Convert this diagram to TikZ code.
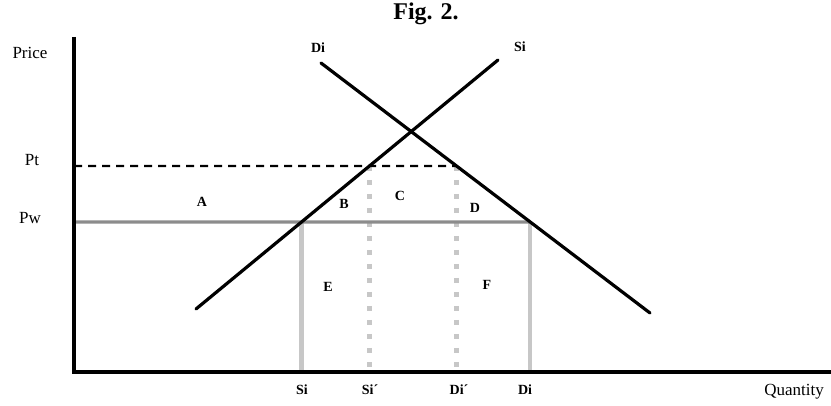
\documentclass[tikz,border=0pt]{standalone}
\usepackage{fontspec}
\setmainfont{Liberation Serif}
\usetikzlibrary{intersections,positioning}

\tikzset{
  axis/.style={line width=3.2pt, black},
  curve/.style={line width=3.2pt, black, line cap=round},
  world/.style={line width=3.4pt, black!45},
  tariff/.style={line width=2.2pt, black, dash pattern=on 8pt off 6pt},
  guide/.style={line width=4.5pt, black!22},
  guidedot/.style={guide, dash pattern=on 5pt off 9pt},
  lbl/.style={font=\fontsize{14}{16}\selectfont\bfseries, inner sep=0pt},
  axlbl/.style={font=\fontsize{17}{19}\selectfont, inner sep=0pt},
}

\begin{document}
\begin{tikzpicture}[x=1pt,y=-1pt]
    \useasboundingbox (0,0) rectangle (831,406);
    % axes and curve ends
    \coordinate (O) at (74,372);
    \coordinate (ytop) at (74,37);
    \coordinate (xend) at (831,372);
    \coordinate (s1) at (196,309);
    \coordinate (s2) at (498,60);
    \coordinate (d1) at (321,63);
    \coordinate (d2) at (650,313);
    \coordinate (pt0) at (74,166);
    \coordinate (pw0) at (74,222);

    % price lines meet the curves
    \path[name path=supply] (s1) -- (s2);
    \path[name path=demand] (d1) -- (d2);
    \path[name path=ptline] (pt0) -- (831,166);
    \path[name path=pwline] (pw0) -- (831,222);
    \path[name intersections={of=supply and ptline, by=ptS}];
    \path[name intersections={of=demand and ptline, by=ptD}];
    \path[name intersections={of=supply and pwline, by=pwS}];
    \path[name intersections={of=demand and pwline, by=pwD}];

    % quantities
    \draw[guide] (pwS) -- (pwS |- O);
    \draw[guide] (pwD) -- (pwD |- O);
    \draw[guidedot] (ptS) -- (ptS |- O);
    \draw[guidedot] (ptD) -- (ptD |- O);

    % Pw and Pt
    \draw[world] (pw0) -- (pwD);
    \draw[tariff] (pt0) -- (ptD);

    % Si and Di
    \draw[curve] (s1) -- (s2);
    \draw[curve] (d1) -- (d2);

    \draw[axis] (ytop) -- (O) -- (xend);

    % texts
    \node[font=\fontsize{24}{26}\selectfont\bfseries] (fig) at (426,14) {Fig. 2.};
    \node[axlbl] (price) at (30,53) {Price};
    \node[axlbl] (pt) at (32,160) {Pt};
    \node[axlbl] (pw) at (30,218) {Pw};
    \node[axlbl] (quantity) at (794,392) {Quantity};

    \node[lbl] (diTop) at (318,48) {Di};
    \node[lbl] (siTop) at (520,47) {Si};
    \node[lbl] (areaA) at (202,202) {A};
    \node[lbl] (areaB) at (344,204) {B};
    \node[lbl] (areaC) at (400,196) {C};
    \node[lbl] (areaD) at (475,208) {D};
    \node[lbl] (areaE) at (328,287) {E};
    \node[lbl] (areaF) at (487,285) {F};

    \node[lbl] (qSi) at (302,390) {Si};
    \node[lbl] (qSiT) at (370,390) {Si´};
    \node[lbl] (qDiT) at (459,390) {Di´};
    \node[lbl] (qDi) at (525,390) {Di};
\end{tikzpicture}
\end{document}
